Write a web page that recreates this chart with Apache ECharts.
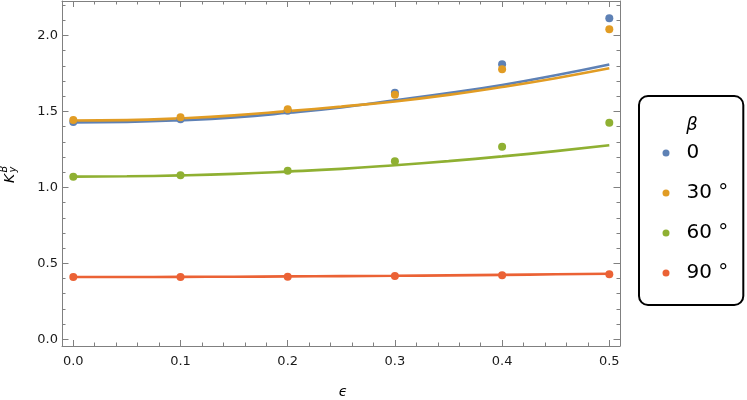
<!DOCTYPE html>
<html>
<head>
<meta charset="utf-8">
<script src="https://cdn.jsdelivr.net/npm/echarts@6/dist/echarts.min.js"></script>
<style>
html,body{margin:0;padding:0;background:#fff;}
#chart{width:747px;height:400px;}
</style>
</head>
<body>
<div id="chart"></div>
<script>
// ---- data ----
const epsPoints = [0.0, 0.1, 0.2, 0.3, 0.4, 0.5];
const beta0Points  = [1.431, 1.448, 1.505, 1.623, 1.810, 2.113];
const beta30Points = [1.444, 1.461, 1.514, 1.610, 1.777, 2.041];
const beta60Points = [1.070, 1.080, 1.110, 1.172, 1.268, 1.426];
const beta90Points = [0.410, 0.410, 0.412, 0.417, 0.421, 0.428];

const epsCurve = [0.0, 0.05, 0.1, 0.15, 0.2, 0.25, 0.3, 0.35, 0.4, 0.45, 0.5];
const beta0Curve  = [1.428, 1.431, 1.442, 1.461, 1.491, 1.527, 1.573, 1.621, 1.674, 1.738, 1.809];
const beta30Curve = [1.440, 1.443, 1.455, 1.474, 1.502, 1.532, 1.566, 1.609, 1.661, 1.719, 1.784];
const beta60Curve = [1.071, 1.073, 1.079, 1.089, 1.104, 1.122, 1.146, 1.173, 1.204, 1.239, 1.278];
const beta90Curve = [0.410, 0.410, 0.411, 0.412, 0.414, 0.416, 0.418, 0.421, 0.424, 0.428, 0.432];

const seriesNames = ['0', '30 °', '60 °', '90 °'];
const xMajorTicks = [0.0, 0.1, 0.2, 0.3, 0.4, 0.5];
const xMinorTicks = [0.02, 0.04, 0.06, 0.08, 0.12, 0.14, 0.16, 0.18, 0.22, 0.24, 0.26, 0.28,
                     0.32, 0.34, 0.36, 0.38, 0.42, 0.44, 0.46, 0.48];
const yMajorTicks = [0.0, 0.5, 1.0, 1.5, 2.0];
const yMinorTicks = [0.1, 0.2, 0.3, 0.4, 0.6, 0.7, 0.8, 0.9, 1.1, 1.2, 1.3, 1.4,
                     1.6, 1.7, 1.8, 1.9, 2.1, 2.2];

// ---- styling ----
const colors = ['#5E81B5', '#E19C24', '#8FB032', '#EB6235'];
const FONT = 'DejaVu Sans';
const frameColor = '#808080';

const pointSets = [beta0Points, beta30Points, beta60Points, beta90Points];
const curveSets = [beta0Curve, beta30Curve, beta60Curve, beta90Curve];
const zip = (xs, ys) => xs.map((x, i) => [x, ys[i]]);

function makeX(pos, ticks, len, showLine, showLabel) {
  return {
    type: 'value', position: pos, min: -0.01054, max: 0.50998,
    axisLine: { show: showLine, onZero: false, lineStyle: { color: frameColor, width: 1 } },
    axisTick: { show: true, inside: true, length: len, customValues: ticks,
                lineStyle: { color: frameColor, width: 1 } },
    axisLabel: { show: showLabel, customValues: ticks, margin: 9,
                 formatter: v => v.toFixed(1),
                 fontFamily: FONT, fontSize: 13, color: '#1a1a1a' },
    splitLine: { show: false }
  };
}
function makeY(pos, ticks, len, showLine, showLabel) {
  return {
    type: 'value', position: pos, min: -0.0441, max: 2.2271,
    axisLine: { show: showLine, onZero: false, lineStyle: { color: frameColor, width: 1 } },
    axisTick: { show: true, inside: true, length: len, customValues: ticks,
                lineStyle: { color: frameColor, width: 1 } },
    axisLabel: { show: showLabel, customValues: ticks, margin: 4,
                 formatter: v => v.toFixed(1),
                 fontFamily: FONT, fontSize: 13, color: '#1a1a1a' },
    splitLine: { show: false }
  };
}

const series = [];
seriesNames.forEach((name, i) => {
  series.push({
    name: name, type: 'scatter', xAxisIndex: 0, yAxisIndex: 0,
    data: zip(epsPoints, pointSets[i]),
    symbol: 'circle', symbolSize: 8, z: 3,
    itemStyle: { color: colors[i], opacity: 1 },
    emphasis: { disabled: true }
  });
});
seriesNames.forEach((name, i) => {
  series.push({
    name: name, type: 'line', xAxisIndex: 0, yAxisIndex: 0,
    data: zip(epsCurve, curveSets[i]),
    smooth: true, showSymbol: false, symbol: 'none', z: 2,
    lineStyle: { color: colors[i], width: 2.6 },
    itemStyle: { color: colors[i] },
    emphasis: { disabled: true }
  });
});

const chart = echarts.init(document.getElementById('chart'));
chart.setOption({
  animation: false,
  backgroundColor: '#fff',
  grid: { left: 62, right: 127, top: 1, bottom: 54, containLabel: false },
  xAxis: [
    makeX('bottom', xMajorTicks, 6, true, true),
    makeX('bottom', xMinorTicks, 3.5, false, false),
    makeX('top', xMajorTicks, 6, true, false),
    makeX('top', xMinorTicks, 3.5, false, false)
  ],
  yAxis: [
    makeY('left', yMajorTicks, 6.5, true, true),
    makeY('left', yMinorTicks, 3.5, false, false),
    makeY('right', yMajorTicks, 6.5, true, false),
    makeY('right', yMinorTicks, 3.5, false, false)
  ],
  legend: {
    orient: 'vertical', left: 639, top: 96,
    padding: [47, 15, 22, 23.5],
    itemWidth: 31, itemHeight: 7, itemGap: 20,
    borderColor: '#000', borderWidth: 2, borderRadius: 9,
    backgroundColor: '#fff',
    selectedMode: false,
    textStyle: { fontFamily: FONT, fontSize: 20, lineHeight: 20, color: '#000' },
    data: seriesNames.map((n, i) => ({ name: n, icon: 'circle', itemStyle: { color: colors[i] } }))
  },
  graphic: [
    { type: 'text', x: 692, y: 125, z: 100,
      style: { text: 'β', font: 'italic 18px "DejaVu Sans"', fill: '#000',
               align: 'center', verticalAlign: 'middle' } },
    { type: 'text', x: 343, y: 392,
      style: { text: 'ϵ', font: 'italic 14px "DejaVu Sans"', fill: '#000',
               align: 'center', verticalAlign: 'middle' } },
    { type: 'group', x: 14, y: 183, rotation: Math.PI / 2,
      children: [
        { type: 'text', x: 0, y: -4,
          style: { text: 'K', font: 'italic 14px "DejaVu Sans"', fill: '#000',
                   align: 'left', verticalAlign: 'middle' } },
        { type: 'text', x: 10.5, y: -1,
          style: { text: 'y', font: 'italic 10px "DejaVu Sans"', fill: '#000',
                   align: 'left', verticalAlign: 'middle' } },
        { type: 'text', x: 10.5, y: -10,
          style: { text: 'B', font: 'italic 10px "DejaVu Sans"', fill: '#000',
                   align: 'left', verticalAlign: 'middle' } }
      ] }
  ],
  series: series
});
</script>
</body>
</html>
